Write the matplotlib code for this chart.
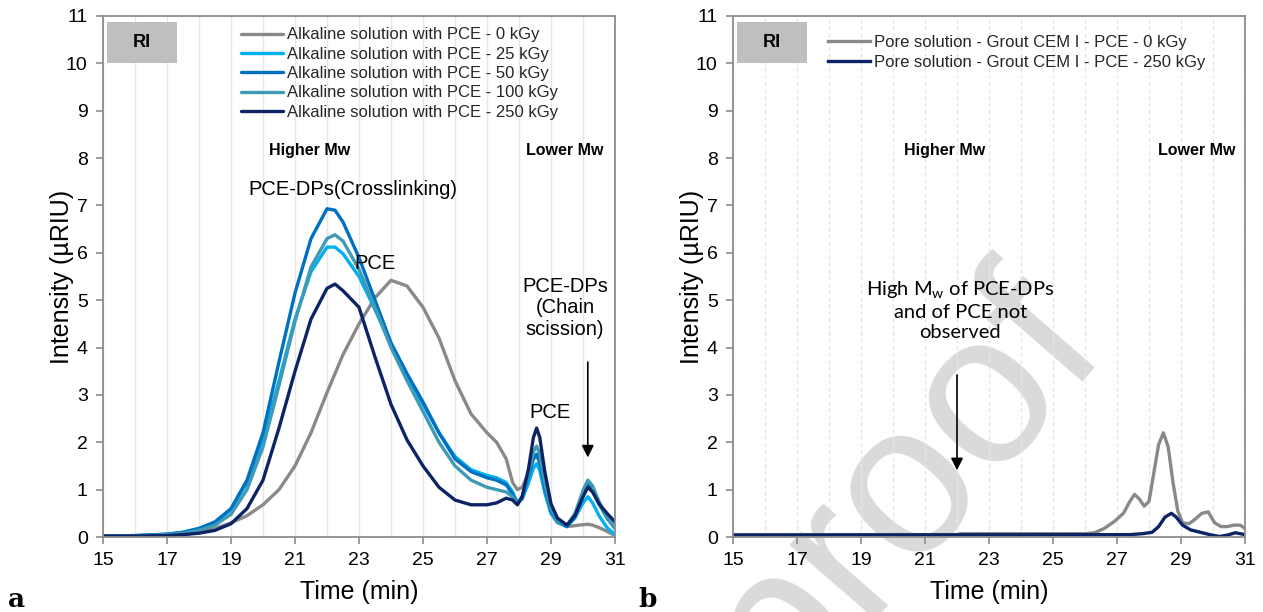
import numpy as np
import matplotlib
matplotlib.use("Agg")
import matplotlib.pyplot as plt
from matplotlib.patches import Rectangle

plt.rcParams['font.family'] = ['Liberation Sans', 'DejaVu Sans']

# (a) alkaline solution with PCE, RI signal
t_a = [15, 16, 17, 17.5, 18, 18.5, 19, 19.5, 20, 20.5, 21, 21.5, 22, 22.25, 22.5, 23, 23.5,
       24, 24.5, 25, 25.5, 26, 26.5, 27, 27.3, 27.6, 27.8, 27.95, 28.1, 28.3, 28.45, 28.55,
       28.65, 28.8, 29.0, 29.2, 29.5, 29.75, 30.0, 30.15, 30.3, 30.5, 30.75, 31]
ri_0kGy = [0.02, 0.02, 0.03, 0.05, 0.1, 0.18, 0.3, 0.45, 0.68, 1.0, 1.5, 2.2, 3.05, 3.45, 3.85,
           4.5, 5.05, 5.42, 5.3, 4.85, 4.2, 3.3, 2.6, 2.2, 2.0, 1.65, 1.15, 1.0, 1.05, 1.35,
           1.65, 1.72, 1.55, 1.0, 0.5, 0.3, 0.22, 0.24, 0.26, 0.27, 0.25, 0.2, 0.12, 0.03]
ri_25kGy = [0.02, 0.03, 0.06, 0.1, 0.18, 0.3, 0.58, 1.15, 2.05, 3.3, 4.6, 5.6, 6.12, 6.12, 5.98,
            5.5, 4.8, 4.05, 3.4, 2.8, 2.2, 1.7, 1.42, 1.3, 1.25, 1.15, 0.95, 0.72, 0.8, 1.15,
            1.45, 1.55, 1.4, 0.95, 0.5, 0.32, 0.22, 0.4, 0.72, 0.85, 0.72, 0.45, 0.2, 0.05]
ri_50kGy = [0.02, 0.03, 0.06, 0.1, 0.18, 0.32, 0.6, 1.2, 2.2, 3.7, 5.15, 6.3, 6.93, 6.9, 6.65,
            5.9, 5.0, 4.1, 3.45, 2.85, 2.2, 1.65, 1.38, 1.25, 1.2, 1.1, 0.9, 0.72, 0.85, 1.3,
            1.65, 1.75, 1.6, 1.05, 0.55, 0.35, 0.22, 0.45, 0.9, 1.12, 1.0, 0.7, 0.4, 0.18]
ri_100kGy = [0.02, 0.02, 0.05, 0.08, 0.14, 0.25, 0.48, 1.0, 1.9, 3.2, 4.55, 5.7, 6.3, 6.38, 6.25,
             5.65, 4.85, 4.0, 3.3, 2.65, 2.0, 1.5, 1.2, 1.05, 1.0, 0.95, 0.85, 0.7, 0.85, 1.35,
             1.8, 1.92, 1.75, 1.15, 0.6, 0.35, 0.25, 0.5, 0.98, 1.2, 1.08, 0.75, 0.42, 0.2]
ri_250kGy = [0.02, 0.02, 0.03, 0.05, 0.08, 0.14, 0.28, 0.6, 1.2, 2.3, 3.5, 4.6, 5.25, 5.34, 5.2,
             4.85, 3.8, 2.8, 2.05, 1.5, 1.05, 0.78, 0.68, 0.68, 0.72, 0.82, 0.78, 0.68, 0.85,
             1.45, 2.1, 2.3, 2.1, 1.4, 0.7, 0.4, 0.25, 0.45, 0.85, 1.05, 0.95, 0.7, 0.5, 0.32]

# (b) pore solution of the CEM I grout
t_b0 = [15, 22, 22.1, 26, 26.3, 26.6, 26.9, 27.2, 27.4, 27.55, 27.7, 27.85, 28.0, 28.15, 28.3,
        28.45, 28.6, 28.75, 28.9, 29.05, 29.25, 29.45, 29.65, 29.85, 30.05, 30.25, 30.45,
        30.65, 30.85, 31]
pore_0kGy = [0.05, 0.05, 0.07, 0.07, 0.09, 0.18, 0.32, 0.5, 0.75, 0.9, 0.8, 0.65, 0.75, 1.35,
             1.95, 2.2, 1.9, 1.15, 0.55, 0.3, 0.28, 0.38, 0.5, 0.53, 0.3, 0.22, 0.22, 0.25,
             0.25, 0.18]
t_b250 = [15, 27.4, 27.8, 28.1, 28.3, 28.5, 28.7, 28.85, 29.05, 29.3, 29.6, 29.9, 30.2, 30.45,
          30.7, 31]
pore_250kGy = [0.04, 0.05, 0.07, 0.1, 0.22, 0.42, 0.5, 0.42, 0.25, 0.15, 0.1, 0.05, 0.01,
               0.04, 0.09, 0.05]

labels_a = ['Alkaline solution with PCE - 0 kGy', 'Alkaline solution with PCE - 25 kGy',
            'Alkaline solution with PCE - 50 kGy', 'Alkaline solution with PCE - 100 kGy',
            'Alkaline solution with PCE - 250 kGy']
labels_b = ['Pore solution - Grout CEM I - PCE - 0 kGy', 'Pore solution - Grout CEM I - PCE - 250 kGy']
colors = ['#898989', '#00b0f0', '#0070c0', '#3f9ab5', '#0c2466']

fig = plt.figure(figsize=(12.63, 6.12), dpi=100)
fig.patch.set_facecolor('white')
ax1 = fig.add_axes([103 / 1263, 75 / 612, 512 / 1263, 521 / 612])
ax2 = fig.add_axes([733 / 1263, 75 / 612, 512 / 1263, 521 / 612])

# watermark behind the plots
fig.text(1110 / 1263, 1 - 350 / 612, 'Journal Pre-proof', fontsize=155, color='#dadada',
         rotation=49, rotation_mode='anchor', ha='right', va='baseline', zorder=-5)


def style(ax, dashed_grid=False):
    ax.set_facecolor('none')
    ax.set_xlim(15, 31)
    ax.set_ylim(0, 11)
    ax.set_xticks(np.arange(15, 32, 2))
    ax.set_yticks(np.arange(0, 12, 1))
    ax.set_xticks(np.arange(15, 32, 1), minor=True)
    ax.tick_params(axis='x', which='minor', length=0)
    ax.grid(True, axis='x', which='both', color='#e6e6e6', lw=1.0,
            ls=(0, (3, 2)) if dashed_grid else '-')
    ax.set_axisbelow(True)
    for sp in ax.spines.values():
        sp.set_color('#8c8c8c')
        sp.set_linewidth(1.3)
    ax.tick_params(which='major', direction='out', length=5, width=1.2, color='#8c8c8c',
                   labelsize=14, pad=6)
    ax.set_xlabel('Time (min)', fontsize=18, labelpad=8)
    ax.set_ylabel('Intensity (µRIU)', fontsize=18)
    ax.yaxis.set_label_coords(-0.056, 0.5)
    ax.add_patch(Rectangle((15.13, 10.0), 2.17, 0.87, facecolor='#bfbfbf', edgecolor='none', zorder=4))
    ax.text(16.2, 10.43, 'RI', fontsize=13, fontweight='bold', ha='center', va='center', zorder=5)


style(ax1)
style(ax2, dashed_grid=True)

leg_kw = dict(loc='upper left', frameon=False, fontsize=12, borderpad=0, borderaxespad=0,
              handlelength=2.5, handletextpad=0.25, labelspacing=0.26, labelcolor='#262626')

for ys, c, lab in zip([ri_0kGy, ri_25kGy, ri_50kGy, ri_100kGy, ri_250kGy], colors, labels_a):
    ax1.plot(t_a, ys, color=c, lw=2.4, label=lab, solid_capstyle='round')
ax1.legend(bbox_to_anchor=(0.270, 0.978), **leg_kw)

ax2.plot(t_b0, pore_0kGy, color=colors[0], lw=2.4, label=labels_b[0])
ax2.plot(t_b250, pore_250kGy, color=colors[4], lw=2.4, label=labels_b[1])
ax2.legend(bbox_to_anchor=(0.186, 0.963), **leg_kw)

# annotations (a)
ax1.text(21.47, 8.17, 'Higher Mw', fontsize=11.5, fontweight='bold', ha='center', va='center')
ax1.text(29.44, 8.17, 'Lower Mw', fontsize=11.5, fontweight='bold', ha='center', va='center')
ax1.text(22.81, 7.33, 'PCE-DPs(Crosslinking)', fontsize=14.5, ha='center', va='center')
ax1.text(23.5, 5.77, 'PCE', fontsize=14.5, ha='center', va='center')
ax1.text(28.97, 2.62, 'PCE', fontsize=14.5, ha='center', va='center')
ax1.text(29.44, 4.84, 'PCE-DPs\n(Chain\nscission)', fontsize=14.5, ha='center', va='center',
         linespacing=1.15)
ax1.annotate('', xy=(30.15, 1.62), xytext=(30.15, 3.75),
             arrowprops=dict(arrowstyle='-|>', color='black', lw=1.2, mutation_scale=18))

# annotations (b)
ax2.text(21.6, 8.17, 'Higher Mw', fontsize=11.5, fontweight='bold', ha='center', va='center')
ax2.text(29.5, 8.17, 'Lower Mw', fontsize=11.5, fontweight='bold', ha='center', va='center')
ax2.text(22.1, 4.79, 'High M$_\\mathregular{w}$ of PCE-DPs\nand of PCE not\nobserved',
         fontsize=14.5, ha='center', va='center', linespacing=1.2, family=['Lato', 'DejaVu Sans'])
ax2.annotate('', xy=(22.0, 1.35), xytext=(22.0, 3.48),
             arrowprops=dict(arrowstyle='-|>', color='black', lw=1.2, mutation_scale=18))

fig.text(8 / 1263, 1 - 607 / 612, 'a', fontsize=19, fontweight='bold', family='DejaVu Serif')
fig.text(638 / 1263, 1 - 607 / 612, 'b', fontsize=19, fontweight='bold', family='DejaVu Serif')

fig.savefig('out.png', dpi=100)
